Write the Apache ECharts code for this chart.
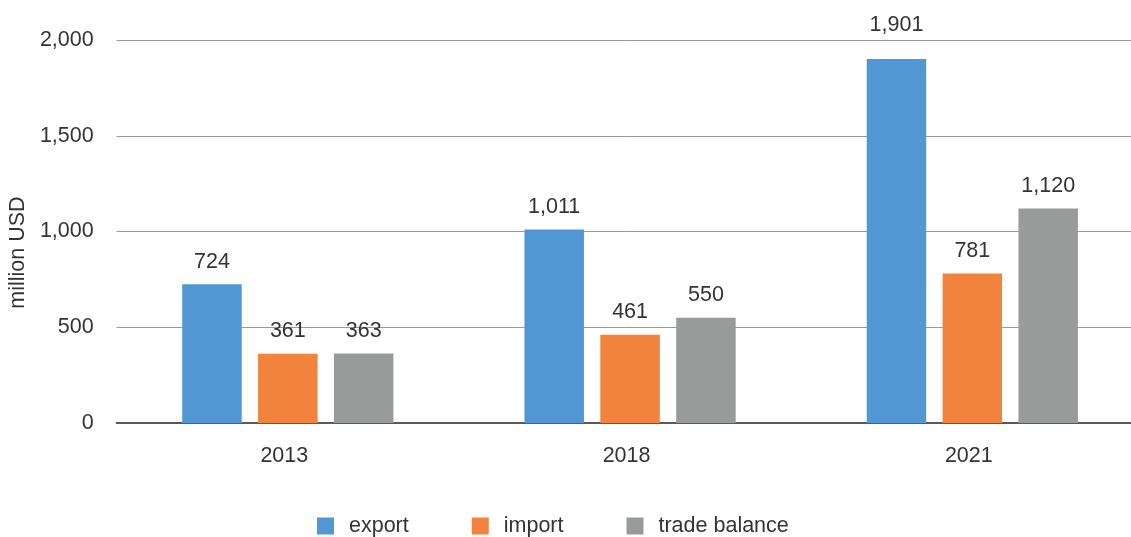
<!DOCTYPE html>
<html>
<head>
<meta charset="utf-8">
<script src="https://cdn.jsdelivr.net/npm/echarts@6/dist/echarts.min.js"></script>
<style>
html,body{margin:0;padding:0;background:#fff;}
#chart{width:1131px;height:537px;}
</style>
</head>
<body>
<div id="chart"></div>
<script>
var categories = ['2013', '2018', '2021'];
var exportValues = [724, 1011, 1901];
var importValues = [361, 461, 781];
var balanceValues = [363, 550, 1120];
var seriesNames = ['export', 'import', 'trade balance'];
var yTicks = [0, 500, 1000, 1500, 2000];

var FONT = '"Liberation Sans", Arial, sans-serif';
var TXT = '#333333';
var FS = 21.5;
function fmt(v) { return Number(v).toLocaleString('en-US'); }

var chart = echarts.init(document.getElementById('chart'), null, {renderer: 'canvas'});
function barSeries(name, data, color, raisedIndex) {
  return {
    name: name,
    type: 'bar',
    data: data.map(function (v, i) {
      return i === raisedIndex ? {value: v, label: {distance: 22.5}} : v;
    }),
    barWidth: 59.5,
    barGap: '27.5%',
    itemStyle: {color: color},
    label: {
      show: true,
      position: 'top',
      distance: 11.5,
      color: TXT,
      fontFamily: FONT,
      fontSize: FS,
      formatter: function (p) { return fmt(p.value); }
    }
  };
}
chart.setOption({
  animation: false,
  textStyle: {fontFamily: FONT},
  grid: {left: 116.7, top: 40, width: 1026.75, height: 383, containLabel: false, outerBoundsMode: 'none'},
  legend: {
    left: 317,
    top: 515,
    padding: 0,
    itemWidth: 17,
    itemHeight: 17,
    itemGap: 63,
    icon: 'rect',
    textStyle: {color: TXT, fontFamily: FONT, fontSize: FS, padding: [0, 0, 0, 10]},
    data: seriesNames
  },
  xAxis: {
    type: 'category',
    data: categories,
    axisTick: {show: false},
    axisLine: {lineStyle: {color: '#5a5a5a', width: 2}},
    axisLabel: {color: TXT, fontFamily: FONT, fontSize: FS, margin: 22, padding: [0, 7, 0, 0]}
  },
  yAxis: {
    type: 'value',
    min: yTicks[0],
    max: yTicks[yTicks.length - 1],
    interval: 500,
    name: 'million USD',
    nameLocation: 'middle',
    nameGap: 81,
    nameTextStyle: {color: TXT, fontFamily: FONT, fontSize: FS, padding: [0, 42, 0, 0]},
    axisLine: {show: false},
    axisTick: {show: false},
    splitLine: {lineStyle: {color: '#999999', width: 1}},
    axisLabel: {color: TXT, fontFamily: FONT, fontSize: FS, margin: 23, formatter: function (v) { return fmt(v); }}
  },
  series: [
    barSeries(seriesNames[0], exportValues, '#5097d3', 2),
    barSeries(seriesNames[1], importValues, '#f1833d', -1),
    barSeries(seriesNames[2], balanceValues, '#999b9b', -1)
  ]
});
</script>
</body>
</html>
